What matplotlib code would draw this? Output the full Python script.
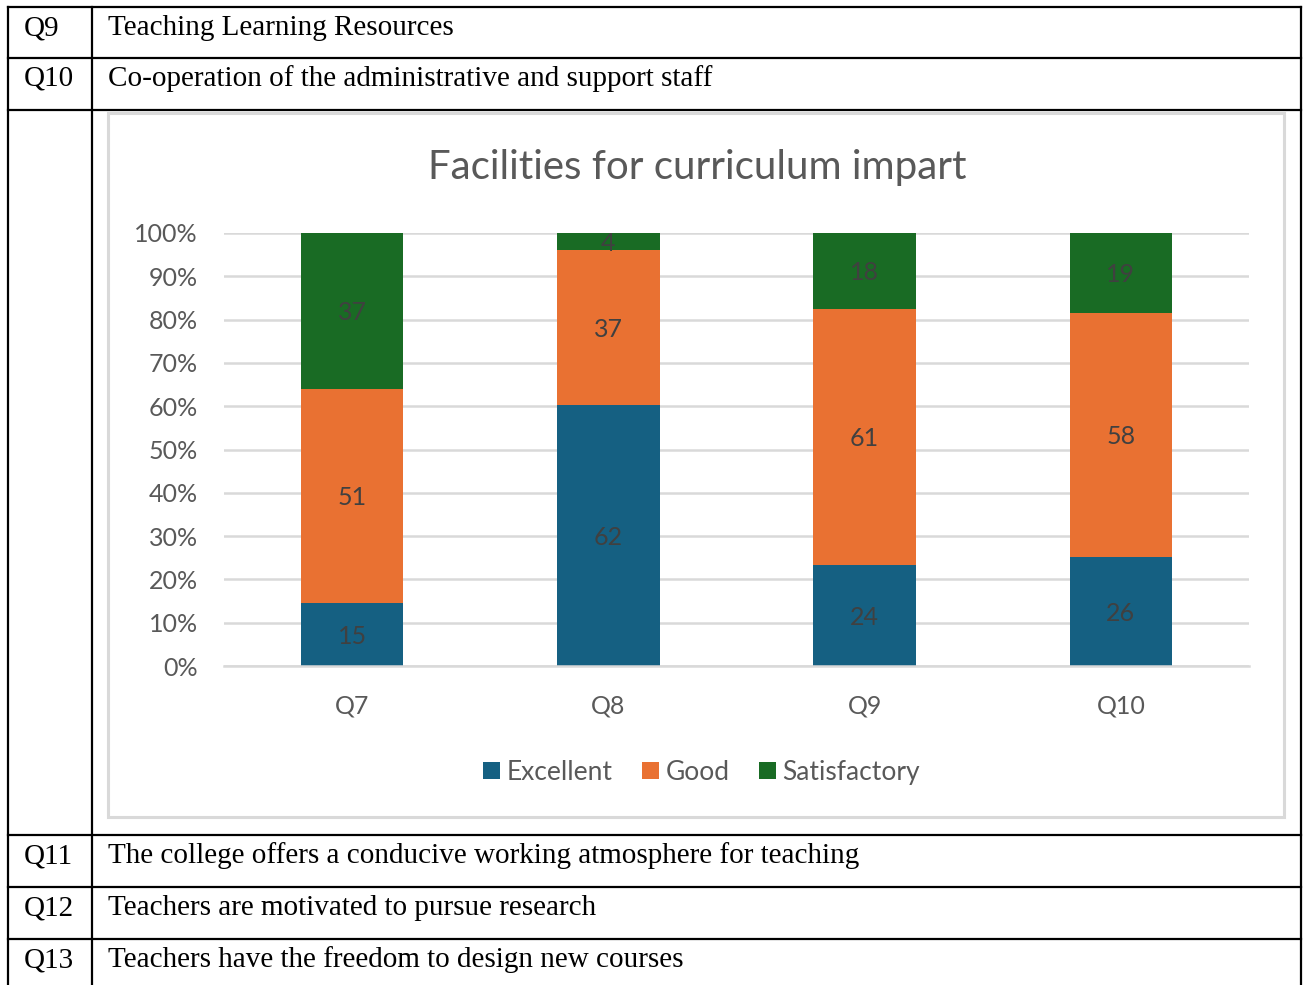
"""
Recreate the 'Facilities for curriculum impart' chart embedded in the survey table.
"""

import matplotlib.pyplot as plt
import numpy as np
from matplotlib.patches import Rectangle

# ── data ──────────────────────────────────────────────
categories = ["Q7", "Q8", "Q9", "Q10"]
excellent = [15, 62, 24, 26]
good = [51, 37, 61, 58]
satisfactory = [37, 4, 18, 19]

row_ids_top = ["Q9", "Q10"]
row_texts_top = ["Teaching Learning Resources",
                 "Co-operation of the administrative and support staff"]
row_ids_bottom = ["Q11", "Q12", "Q13"]
row_texts_bottom = ["The college offers a conducive working atmosphere for teaching",
                    "Teachers are motivated to pursue research",
                    "Teachers have the freedom to design new courses"]

# ── styling ───────────────────────────────────────────
W, H = 1308, 985
C_EXC = "#156082"
C_GOOD = "#E97132"
C_SAT = "#196B24"
GREY_TXT = "#595959"
GRID = "#D9D9D9"
SANS = ["Lato", "DejaVu Sans"]
SERIF = ["Liberation Serif", "DejaVu Serif"]

fig = plt.figure(figsize=(W / 100, H / 100), dpi=100)

# ── table drawn in pixel coordinates ──────────────────
bg = fig.add_axes([0, 0, 1, 1])
bg.set_xlim(0, W)
bg.set_ylim(H, 0)
bg.axis("off")

lw = 1.6
x_left, x_div, x_right = 8, 92, 1301
row_lines = [7, 58, 110, 835, 887, 939]
for y in row_lines:
    bg.plot([x_left, x_right], [y, y], color="black", lw=lw, solid_capstyle="projecting")
for x in (x_left, x_div, x_right):
    bg.plot([x, x], [7, H + 5], color="black", lw=lw, solid_capstyle="projecting")

row_tops = [7, 58, 835, 887, 939]
ids = row_ids_top + row_ids_bottom
texts = row_texts_top + row_texts_bottom
for top, qid, txt in zip(row_tops, ids, texts):
    bg.text(24, top + 21, qid, family=SERIF, fontsize=21, va="center", ha="left")
    bg.text(108, top + 21, txt, family=SERIF, fontsize=21, va="center", ha="left")

# chart frame
bg.add_patch(Rectangle((108, 113), 1176, 704, fill=False, ec=GRID, lw=2.2))

# title
bg.text(697, 167, "Facilities for curriculum impart", family=SANS,
        fontsize=29, color=GREY_TXT, ha="center", va="center")

# ── chart axes ────────────────────────────────────────
ax_l, ax_r, ax_t, ax_b = 224, 1249, 233, 666
ax = fig.add_axes([ax_l / W, 1 - ax_b / H, (ax_r - ax_l) / W, (ax_b - ax_t) / H])
ax.set_facecolor("none")

exc = np.array(excellent, dtype=float)
gd = np.array(good, dtype=float)
sat = np.array(satisfactory, dtype=float)
tot = exc + gd + sat
p_exc, p_gd, p_sat = exc / tot, gd / tot, sat / tot

x = np.arange(len(categories))
width = 0.4
ax.bar(x, p_exc, width, color=C_EXC, label="Excellent", zorder=2)
ax.bar(x, p_gd, width, bottom=p_exc, color=C_GOOD, label="Good", zorder=2)
ax.bar(x, p_sat, width, bottom=p_exc + p_gd, color=C_SAT, label="Satisfactory", zorder=2)

# value labels in the middle of each segment
for i in range(len(categories)):
    segs = [(p_exc[i] / 2, excellent[i]),
            (p_exc[i] + p_gd[i] / 2, good[i]),
            (p_exc[i] + p_gd[i] + p_sat[i] / 2, satisfactory[i])]
    for yc, val in segs:
        ax.text(x[i], yc, str(val), ha="center", va="center_baseline", fontsize=18,
                color="#404040", family=SANS, zorder=3)

ax.set_xlim(-0.5, len(categories) - 0.5)
ax.set_ylim(0, 1)
ax.set_yticks(np.linspace(0, 1, 11))
ax.set_yticklabels([f"{int(v)}%" for v in np.linspace(0, 100, 11)])
ax.set_xticks(x)
ax.set_xticklabels(categories)
ax.grid(axis="y", color=GRID, lw=1.8, zorder=0)
ax.set_axisbelow(True)
for s in ("top", "right", "left"):
    ax.spines[s].set_visible(False)
ax.spines["bottom"].set_color(GRID)
ax.spines["bottom"].set_linewidth(1.8)
ax.tick_params(axis="both", length=0, labelcolor=GREY_TXT, labelsize=18)
ax.tick_params(axis="y", pad=19)
ax.tick_params(axis="x", pad=20.5)
for lab in ax.get_xticklabels() + ax.get_yticklabels():
    lab.set_family(SANS)

leg = ax.legend(loc="center", bbox_to_anchor=(0.466, -0.245), ncol=3, frameon=False,
                handlelength=0.65, handleheight=0.65, handletextpad=0.25,
                columnspacing=1.1, prop={"family": SANS, "size": 19})
for t in leg.get_texts():
    t.set_color(GREY_TXT)

fig.savefig("out.png", dpi=100)
